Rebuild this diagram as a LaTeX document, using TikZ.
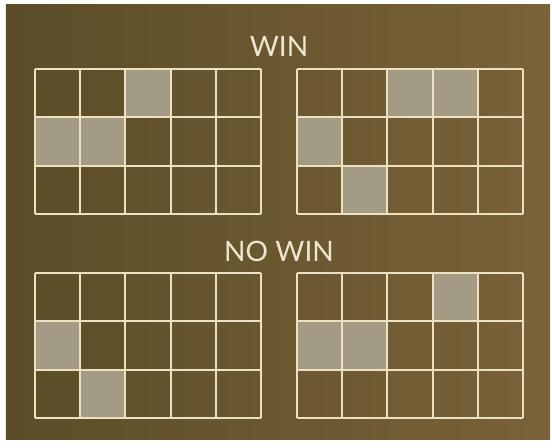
\documentclass[tikz,border=0pt]{standalone}
\usepackage{fontspec}
\setmainfont{Lato}
\definecolor{feltdark}{HTML}{5A4D27}
\definecolor{feltlight}{HTML}{7A6239}
\definecolor{cellon}{HTML}{A49B84}
\definecolor{gridcream}{HTML}{ECE2C2}
\definecolor{labelcream}{HTML}{EEE6D0}

\begin{document}
\begin{tikzpicture}[x=0.02cm, y=-0.02cm,
        gridline/.style={gridcream, line width=1.15pt},
        hitcell/.style={fill=cellon},
        title/.style={labelcream, font=\fontsize{16}{16}\selectfont}]
        % 1. Page frame and the felt background
       \useasboundingbox (0,0) rectangle (552,448);
       \fill[white] (0,0) rectangle (552,448);
       \shade[left color=feltdark, right color=feltlight] (6,5) rectangle (550,440);

       % 2. Headings
       \node[title] (win) at (279,46) {WIN};
       \node[title] (nowin) at (279,251) {NO WIN};

       % 3. The four 5x3 boards: left x / top y / lit cells (column/row)
       \foreach \gx/\gy/\cells in {35/69/{2/0,0/1,1/1},
                                   297/69/{2/0,3/0,0/1,1/2},
                                   35/273/{0/1,1/2},
                                   297/273/{3/0,0/1,1/1}}
       {
           \foreach \c/\r in \cells
               \fill[hitcell] ({\gx+\c*45.2},{\gy+\r*48.3}) rectangle ++(45.2,48.3);
           \foreach \c in {0,...,5}
               \draw[gridline] ({\gx+\c*45.2},\gy) -- ++(0,145);
           \foreach \r in {0,...,3}
               \draw[gridline] (\gx,{\gy+\r*48.3}) -- ++(226,0);
       }

    \end{tikzpicture}
\end{document}
